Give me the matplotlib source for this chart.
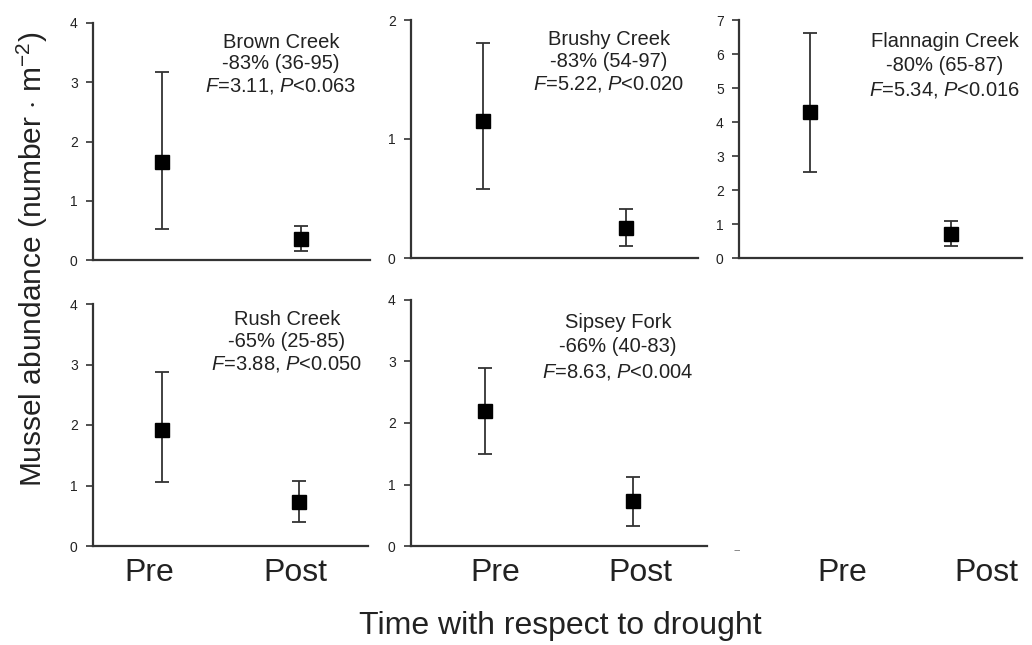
import matplotlib
matplotlib.use("Agg")
import matplotlib.pyplot as plt

plt.rcParams['font.family'] = ['Liberation Sans', 'DejaVu Sans']
plt.rcParams['mathtext.fontset'] = 'custom'
plt.rcParams['mathtext.rm'] = 'Liberation Sans'
plt.rcParams['mathtext.it'] = 'Liberation Sans:italic'

# data
sites = ["Brown Creek", "Brushy Creek", "Flannagin Creek", "Rush Creek", "Sipsey Fork"]
periods = ["Pre", "Post"]
pre_mean = [1.65, 1.15, 4.30, 1.92, 2.20]
pre_lo = [0.52, 0.58, 2.52, 1.05, 1.50]
pre_hi = [3.17, 1.81, 6.62, 2.88, 2.90]
post_mean = [0.35, 0.25, 0.71, 0.72, 0.73]
post_lo = [0.15, 0.10, 0.34, 0.40, 0.33]
post_hi = [0.58, 0.41, 1.09, 1.08, 1.13]
changes = ["-83% (36-95)", "-83% (54-97)", "-80% (65-87)", "-65% (25-85)", "-66% (40-83)"]
f_vals = ["3.11", "5.22", "5.34", "3.88", "8.63"]
p_vals = ["0.063", "0.020", "0.016", "0.050", "0.004"]
y_max = [4, 2, 7, 4, 4]

W, H = 1032, 645
fig = plt.figure(figsize=(W / 100, H / 100), dpi=100)

# axes boxes in pixels: left, top, right, bottom
boxes = [(93, 23, 370, 260), (411, 20, 698, 258), (739, 20, 1022, 258),
         (93, 304, 368, 546), (411, 300, 707, 546)]
# annotation centre x, first-line centre y, line spacing
notes = [(281, 43, 1.15), (609, 40, 1.2), (945, 42, 1.32), (287, 320, 1.2), (618, 323, 1.35)]

ink = '#222222'
for i, (l, t, r, b) in enumerate(boxes):
    ax = fig.add_axes([l / W, 1 - b / H, (r - l) / W, (b - t) / H])
    x = [0, 1]
    means = [pre_mean[i], post_mean[i]]
    lo = [pre_mean[i] - pre_lo[i], post_mean[i] - post_lo[i]]
    hi = [pre_hi[i] - pre_mean[i], post_hi[i] - post_mean[i]]
    ax.errorbar(x, means, yerr=[lo, hi], fmt='s', color='black', ms=10,
                ecolor='#333333', elinewidth=1.3, capsize=5, capthick=1.3)
    ax.set_xlim(-0.5, 1.5)
    ax.set_ylim(0, y_max[i])
    ax.set_yticks(range(y_max[i] + 1))
    ax.set_xticks([])
    for s in ['top', 'right']:
        ax.spines[s].set_visible(False)
    for s in ['left', 'bottom']:
        ax.spines[s].set_color('#333333')
        ax.spines[s].set_linewidth(1.6)
    ax.tick_params(axis='y', direction='out', length=5, width=1.2, colors='#333333',
                   labelsize=10, labelcolor=ink, pad=6)
    ax.patch.set_alpha(0)
    cx, cy, ls = notes[i]
    txt = "%s\n%s\n$F$=%s, $P$<%s" % (sites[i], changes[i], f_vals[i], p_vals[i])
    fig.text(cx / W, 1 - (cy - 10) / H, txt, ha='center', va='top',
             fontsize=14.5, color=ink, linespacing=ls)

# category labels under the bottom row
label_x = [(149, 295), (495, 640), (842, 986)]
for px, qx in label_x:
    for lab, xx in zip(periods, (px, qx)):
        fig.text(xx / W, 1 - 573 / H, lab, ha='center', va='center', fontsize=23, color=ink)

fig.text(737 / W, 1 - 550 / H, "--", ha='center', va='center', fontsize=8, color='#666666')

fig.text(560 / W, 1 - 626 / H, "Time with respect to drought", ha='center', va='center',
         fontsize=23, color=ink)
fig.text(32 / W, 1 - 259 / H, "Mussel abundance (number $\\cdot$ m$^{-2}$)", rotation=90,
         ha='center', va='center', fontsize=21.5, color=ink)

fig.savefig("out.png", dpi=100)
